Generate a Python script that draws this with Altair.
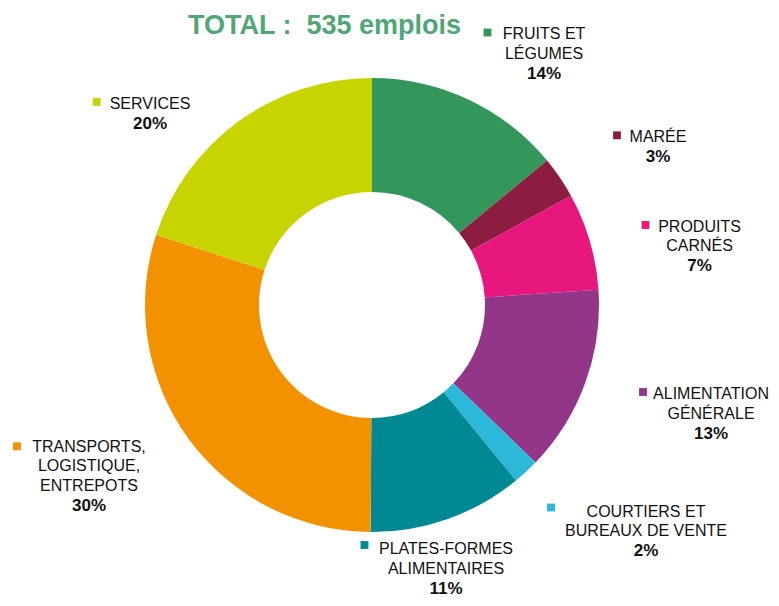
import altair as alt
import pandas as pd

# ---- data ----
categories = [
    "FRUITS ET LÉGUMES",
    "MARÉE",
    "PRODUITS CARNÉS",
    "ALIMENTATION GÉNÉRALE",
    "COURTIERS ET BUREAUX DE VENTE",
    "PLATES-FORMES ALIMENTAIRES",
    "TRANSPORTS, LOGISTIQUE, ENTREPOTS",
    "SERVICES",
]
label_lines = [
    "FRUITS ET\nLÉGUMES",
    "MARÉE",
    "PRODUITS\nCARNÉS",
    "ALIMENTATION\nGÉNÉRALE",
    "COURTIERS ET\nBUREAUX DE VENTE",
    "PLATES-FORMES\nALIMENTAIRES",
    "TRANSPORTS,\nLOGISTIQUE,\nENTREPOTS",
    "SERVICES",
]
values = [75, 16, 37, 71, 10, 59, 160, 107]
total_label = "TOTAL :\u00a0 535 emplois"

# ---- styles ----
colors = ["#33975B", "#8C1D40", "#E8177D", "#93368A",
          "#2CB9D9", "#008893", "#F39200", "#C8D400"]
title_color = "#4FA775"
FONT = "Liberation Sans"
OFF = 8  # page margin

# label layout (page px): name centre x, first baseline y, marker x, marker y
layout = {
    "FRUITS ET LÉGUMES": (544, 39, 487.5, 32.5),
    "MARÉE": (658, 142, 617, 135.3),
    "PRODUITS CARNÉS": (699.5, 231.5, 645.5, 225),
    "ALIMENTATION GÉNÉRALE": (711, 399, 643, 392),
    "COURTIERS ET BUREAUX DE VENTE": (646, 516.5, 551, 507.5),
    "PLATES-FORMES ALIMENTAIRES": (446, 554, 364.5, 545),
    "TRANSPORTS, LOGISTIQUE, ENTREPOTS": (89, 451.5, 17, 446.3),
    "SERVICES": (150, 109.3, 96.7, 102),
}
LINE_H = 19.8
center = (372 - OFF, 305 - OFF)

total = sum(values)
df = pd.DataFrame({
    "cat": categories,
    "value": values,
    "idx": list(range(len(categories))),
})
df["pct"] = [f"{round(v / total * 100)}%" for v in values]

rows = []
for cat, lines, pct in zip(categories, label_lines, df["pct"]):
    nx, ny, mx, my = layout[cat]
    n = len(lines.split("\n"))
    rows.append({
        "cat": cat, "lines": lines, "pct": pct,
        "nx": nx - OFF, "ny": ny - OFF,
        "py": ny - OFF + n * LINE_H,
        "mx": mx - OFF, "my": my - OFF,
    })
lab = pd.DataFrame(rows)

cscale = alt.Scale(domain=categories, range=colors)

arc = alt.Chart(df).mark_arc(innerRadius=113, outerRadius=227).encode(
    theta=alt.Theta("value:Q", stack=True),
    order=alt.Order("idx:Q"),
    color=alt.Color("cat:N", scale=cscale, legend=None),
    x=alt.value(center[0]),
    y=alt.value(center[1]),
)

markers = alt.Chart(lab).mark_square(size=62, opacity=1, filled=True).encode(
    x=alt.X("mx:Q", scale=None, axis=None),
    y=alt.Y("my:Q", scale=None, axis=None),
    color=alt.Color("cat:N", scale=cscale, legend=None),
)

names = alt.Chart(lab).mark_text(
    font=FONT, fontSize=16, color="#111111", align="center",
    baseline="alphabetic", lineBreak="\n", lineHeight=LINE_H,
).encode(
    x=alt.X("nx:Q", scale=None, axis=None),
    y=alt.Y("ny:Q", scale=None, axis=None),
    text="lines:N",
)

pcts = alt.Chart(lab).mark_text(
    font=FONT, fontSize=17, fontWeight="bold", color="#111111",
    align="center", baseline="alphabetic",
).encode(
    x=alt.X("nx:Q", scale=None, axis=None),
    y=alt.Y("py:Q", scale=None, axis=None),
    text="pct:N",
)

title = alt.Chart(pd.DataFrame({"t": [total_label]})).mark_text(
    font=FONT, fontSize=27, fontWeight="bold", color=title_color,
    align="center", baseline="alphabetic",
).encode(
    x=alt.value(324.5 - OFF),
    y=alt.value(34 - OFF),
    text="t:N",
)

chart = alt.layer(arc, markers, names, pcts, title).properties(
    width=763, height=590, padding=0,
    autosize=alt.AutoSizeParams(type="none"),
).configure_view(stroke=None)

chart.save("out.html", embed_options={"renderer": "svg", "actions": False})
